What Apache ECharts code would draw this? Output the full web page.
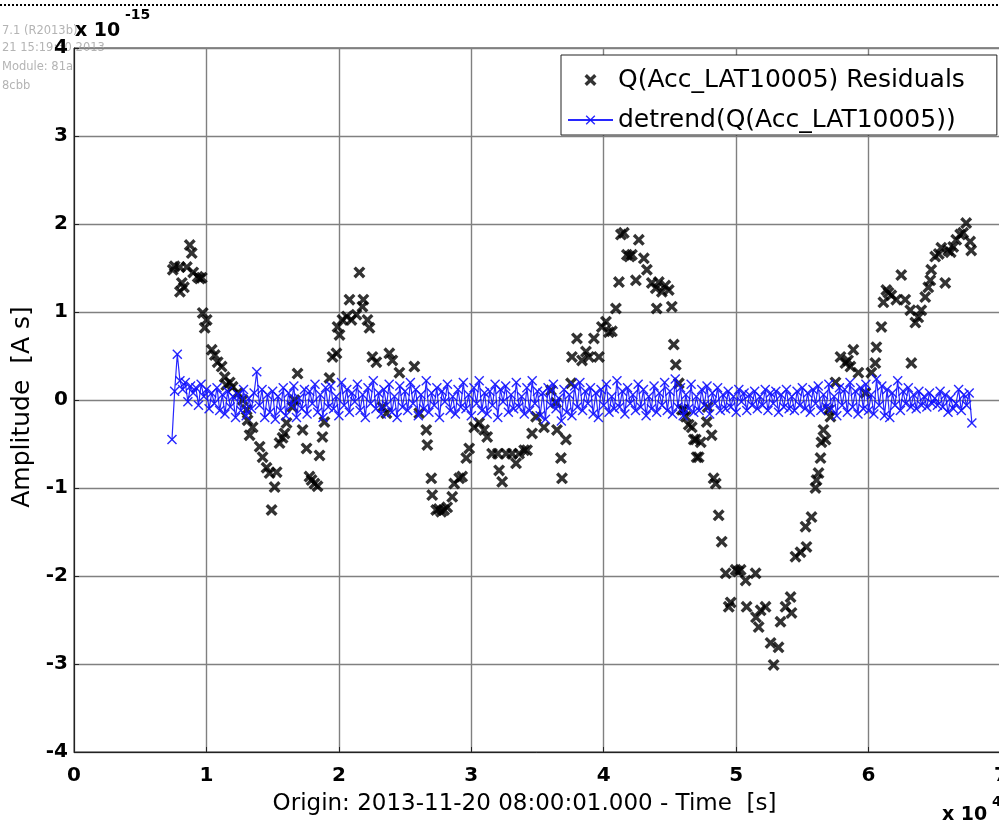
<!DOCTYPE html>
<html>
<head>
<meta charset="utf-8">
<script src="https://cdn.jsdelivr.net/npm/echarts@6/dist/echarts.min.js"></script>
<style>html,body{margin:0;padding:0;background:#fff;}#c{width:999px;height:827px;}</style>
</head>
<body>
<div id="c"></div>
<script>
// Time in units of 1e4 s, amplitude in units of 1e-15 A s
var xTicks = [0, 1, 2, 3, 4, 5, 6, 7];
var yTicks = [-4, -3, -2, -1, 0, 1, 2, 3, 4];
var seriesNames = ['Q(Acc_LAT10005) Residuals', 'detrend(Q(Acc_LAT10005))'];

var residuals = [
[0.746,1.48],[0.76,1.52],[0.799,1.51],[0.80,1.23],[0.814,1.33],[0.83,1.28],[0.852,1.51],[0.874,1.76],[0.889,1.67],[0.90,1.45],
[0.934,1.40],[0.95,1.38],[0.965,1.39],[0.972,0.99],[0.987,0.82],[1.002,0.91],[1.040,0.57],[1.063,0.51],[1.085,0.43],[1.115,0.38],
[1.138,0.26],[1.15,0.17],[1.176,0.20],[1.198,0.15],[1.236,0.08],[1.274,0.00],[1.304,-0.11],[1.311,-0.23],[1.326,-0.40],[1.349,-0.31],
[1.402,-0.53],[1.424,-0.65],[1.454,-0.77],[1.477,-0.83],[1.492,-1.25],[1.515,-0.99],[1.530,-0.82],[1.552,-0.49],[1.575,-0.43],[1.590,-0.38],
[1.605,-0.26],[1.650,-0.08],[1.665,0.00],[1.688,0.30],[1.726,-0.34],[1.756,-0.55],[1.778,-0.87],[1.794,-0.91],[1.816,-0.95],[1.839,-0.98],
[1.854,-0.63],[1.876,-0.42],[1.891,-0.25],[1.929,0.25],[1.952,0.49],[1.982,0.53],[1.990,0.83],[2.005,0.74],[2.027,0.91],[2.060,0.95],
[2.080,1.14],[2.095,0.91],[2.133,0.97],[2.155,1.45],[2.178,1.06],[2.185,1.14],[2.216,0.91],[2.231,0.82],[2.253,0.49],[2.283,0.43],
[2.329,-0.08],[2.359,-0.15],[2.381,0.53],[2.404,0.45],[2.457,0.31],[2.570,0.38],[2.607,-0.15],[2.660,-0.34],[2.668,-0.51],[2.698,-0.89],
[2.705,-1.08],[2.735,-1.25],[2.755,-1.24],[2.773,-1.27],[2.795,-1.25],[2.818,-1.22],[2.856,-1.10],[2.871,-0.95],[2.909,-0.89],[2.931,-0.87],
[2.962,-0.66],[2.984,-0.55],[3.022,-0.31],[3.060,-0.26],[3.097,-0.34],[3.120,-0.42],[3.157,-0.61],[3.200,-0.61],[3.210,-0.80],[3.233,-0.93],
[3.263,-0.61],[3.308,-0.61],[3.338,-0.72],[3.361,-0.61],[3.399,-0.57],[3.421,-0.57],[3.459,-0.38],[3.489,-0.19],[3.549,-0.31],[3.602,0.11],
[3.640,-0.03],[3.647,-0.34],[3.677,-0.66],[3.685,-0.89],[3.715,-0.45],[3.753,0.19],[3.760,0.49],[3.798,0.70],[3.836,0.45],[3.866,0.55],
[3.889,0.49],[3.926,0.70],[3.964,0.49],[3.986,0.83],[4.017,0.89],[4.039,0.77],[4.062,0.78],[4.092,1.04],[4.115,1.34],[4.130,1.88],
[4.152,1.90],[4.175,1.65],[4.195,1.63],[4.213,1.65],[4.243,1.36],[4.265,1.82],[4.303,1.61],[4.326,1.48],[4.363,1.33],[4.393,1.27],
[4.400,1.04],[4.416,1.34],[4.439,1.23],[4.465,1.30],[4.491,1.25],[4.514,1.06],[4.529,0.63],[4.544,0.40],[4.567,0.19],[4.590,-0.11],
[4.605,-0.11],[4.620,-0.19],[4.642,-0.28],[4.665,-0.31],[4.680,-0.45],[4.695,-0.45],[4.702,-0.65],[4.717,-0.65],[4.733,-0.48],[4.778,-0.25],
[4.785,-0.08],[4.815,-0.40],[4.830,-0.89],[4.846,-0.95],[4.868,-1.31],[4.891,-1.61],[4.921,-1.97],[4.944,-2.35],[4.959,-2.30],[4.996,-1.93],
[5.015,-1.95],[5.034,-1.93],[5.072,-2.05],[5.079,-2.35],[5.147,-1.97],[5.150,-2.47],[5.170,-2.58],[5.185,-2.39],[5.222,-2.35],[5.260,-2.76],
[5.283,-3.01],[5.320,-2.81],[5.335,-2.52],[5.373,-2.35],[5.411,-2.24],[5.418,-2.42],[5.448,-1.78],[5.486,-1.73],[5.524,-1.44],[5.531,-1.67],
[5.569,-1.33],[5.599,-1.00],[5.607,-0.91],[5.622,-0.83],[5.637,-0.66],[5.644,-0.48],[5.659,-0.34],[5.675,-0.45],[5.697,-0.11],[5.712,-0.19],
[5.750,0.20],[5.788,0.49],[5.825,0.42],[5.845,0.45],[5.863,0.38],[5.885,0.57],[5.923,0.31],[5.976,0.08],[6.021,0.31],[6.051,0.42],
[6.059,0.60],[6.097,0.83],[6.112,1.11],[6.134,1.25],[6.150,1.22],[6.172,1.19],[6.209,1.14],[6.247,1.42],[6.277,1.14],[6.315,1.02],
[6.323,0.42],[6.353,0.88],[6.375,0.94],[6.398,1.02],[6.428,1.17],[6.451,1.28],[6.466,1.36],[6.473,1.48],[6.503,1.63],[6.530,1.66],
[6.549,1.73],[6.579,1.33],[6.601,1.70],[6.620,1.68],[6.639,1.74],[6.662,1.82],[6.692,1.88],[6.714,1.90],[6.737,2.01],[6.767,1.80],
[6.775,1.70]
];

var detrended = [
[0.74,-0.45],[0.76,0.10],[0.78,0.52],[0.80,0.22],[0.82,0.12],[0.84,0.20],[0.86,-0.02],[0.88,0.16],[0.90,0.08],[0.92,0.14],
[0.94,-0.06],[0.96,0.18],[0.98,0.04],[1.00,0.12],[1.02,-0.10],[1.04,0.08],[1.06,-0.04],[1.08,0.14],[1.10,-0.12],[1.12,0.06],
[1.14,-0.16],[1.16,0.10],[1.18,-0.08],[1.20,0.04],[1.22,-0.20],[1.24,0.06],[1.26,-0.12],[1.28,0.12],[1.30,-0.18],[1.32,0.02],
[1.34,-0.10],[1.36,0.08],[1.38,0.32],[1.40,-0.06],[1.42,0.12],[1.44,-0.20],[1.46,0.06],[1.48,-0.14],[1.50,0.10],[1.52,-0.22],
[1.54,0.04],[1.56,-0.12],[1.58,0.14],[1.60,-0.18],[1.62,0.08],[1.64,-0.06],[1.66,0.16],[1.68,-0.20],[1.70,0.02],[1.72,-0.10],
[1.74,0.12],[1.76,-0.16],[1.78,0.10],[1.80,-0.04],[1.82,0.18],[1.84,-0.14],[1.86,0.06],[1.88,-0.20],[1.90,0.14],[1.92,-0.08],
[1.94,0.16],[1.96,-0.10],[1.98,0.04],[2.00,-0.18],[2.02,0.20],[2.04,-0.06],[2.06,0.12],[2.08,-0.14],[2.10,0.08],[2.12,-0.02],
[2.14,0.18],[2.16,-0.12],[2.18,0.06],[2.20,-0.20],[2.22,0.14],[2.24,-0.04],[2.26,0.22],[2.28,-0.10],[2.30,0.08],[2.32,-0.16],
[2.34,0.12],[2.36,-0.06],[2.38,0.18],[2.40,-0.14],[2.42,0.04],[2.44,-0.20],[2.46,0.16],[2.48,-0.08],[2.50,0.10],[2.52,-0.12],
[2.54,0.20],[2.56,-0.04],[2.58,0.12],[2.60,-0.18],[2.62,0.06],[2.64,-0.10],[2.66,0.22],[2.68,-0.14],[2.70,0.08],[2.72,-0.06],
[2.74,0.14],[2.76,-0.20],[2.78,0.10],[2.80,-0.02],[2.82,0.18],[2.84,-0.12],[2.86,0.04],[2.88,-0.16],[2.90,0.12],[2.92,-0.08],
[2.94,0.20],[2.96,-0.10],[2.98,0.06],[3.00,-0.18],[3.02,0.14],[3.04,-0.04],[3.06,0.22],[3.08,-0.12],[3.10,0.08],[3.12,-0.16],
[3.14,0.10],[3.16,-0.06],[3.18,0.18],[3.20,-0.20],[3.22,0.12],[3.24,-0.02],[3.26,0.16],[3.28,-0.14],[3.30,0.06],[3.32,-0.10],
[3.34,0.20],[3.36,-0.08],[3.38,0.04],[3.40,-0.16],[3.42,0.14],[3.44,-0.12],[3.46,0.22],[3.48,-0.04],[3.50,0.10],[3.52,-0.18],
[3.54,0.08],[3.56,-0.22],[3.58,0.14],[3.60,-0.06],[3.62,0.18],[3.64,-0.10],[3.66,0.02],[3.68,-0.24],[3.70,0.12],[3.72,-0.14],
[3.74,0.06],[3.76,-0.18],[3.78,0.16],[3.80,-0.08],[3.82,0.20],[3.84,-0.12],[3.86,0.10],[3.88,-0.04],[3.90,0.14],[3.92,-0.16],
[3.94,0.08],[3.96,-0.20],[3.98,0.12],[4.00,-0.06],[4.02,0.18],[4.04,-0.14],[4.06,0.04],[4.08,-0.10],[4.10,0.22],[4.12,-0.08],
[4.14,0.10],[4.16,-0.16],[4.18,0.14],[4.20,-0.04],[4.22,0.06],[4.24,-0.12],[4.26,0.18],[4.28,-0.08],[4.30,0.12],[4.32,-0.18],
[4.34,0.04],[4.36,-0.10],[4.38,0.16],[4.40,-0.14],[4.42,0.08],[4.44,-0.06],[4.46,0.20],[4.48,-0.12],[4.50,0.10],[4.52,-0.16],
[4.54,0.24],[4.56,-0.08],[4.58,0.14],[4.60,-0.18],[4.62,0.06],[4.64,-0.10],[4.66,0.18],[4.68,-0.14],[4.70,0.04],[4.72,-0.12],
[4.74,0.12],[4.76,-0.06],[4.78,0.16],[4.80,-0.16],[4.82,0.08],[4.84,-0.04],[4.86,0.14],[4.88,-0.12],[4.90,0.06],[4.92,-0.10],
[4.94,0.10],[4.96,-0.08],[4.98,0.04],[5.00,-0.14],[5.02,0.12],[5.04,-0.02],[5.06,0.08],[5.08,-0.12],[5.10,0.06],[5.12,-0.06],
[5.14,0.10],[5.16,-0.10],[5.18,0.04],[5.20,-0.06],[5.22,0.12],[5.24,-0.12],[5.26,0.08],[5.28,-0.04],[5.30,0.10],[5.32,-0.14],
[5.34,0.06],[5.36,-0.08],[5.38,0.12],[5.40,-0.10],[5.42,0.04],[5.44,-0.12],[5.46,0.10],[5.48,-0.06],[5.50,0.14],[5.52,-0.10],
[5.54,0.08],[5.56,-0.14],[5.58,0.12],[5.60,-0.04],[5.62,0.16],[5.64,-0.12],[5.66,0.06],[5.68,-0.08],[5.70,0.18],[5.72,-0.10],
[5.74,0.04],[5.76,-0.18],[5.78,0.14],[5.80,-0.06],[5.82,0.12],[5.84,-0.14],[5.86,0.20],[5.88,-0.08],[5.90,0.10],[5.92,-0.16],
[5.94,0.14],[5.96,-0.10],[5.98,0.18],[6.00,-0.12],[6.02,0.06],[6.04,-0.16],[6.06,0.24],[6.08,-0.06],[6.10,0.16],[6.12,-0.18],
[6.14,0.12],[6.16,-0.20],[6.18,0.08],[6.20,-0.06],[6.22,0.22],[6.24,-0.12],[6.26,0.10],[6.28,-0.04],[6.30,0.14],[6.32,-0.08],
[6.34,0.06],[6.36,-0.10],[6.38,0.10],[6.40,-0.06],[6.42,0.04],[6.44,-0.08],[6.46,0.08],[6.48,-0.04],[6.50,0.02],[6.52,-0.06],
[6.54,0.10],[6.56,-0.08],[6.58,0.06],[6.60,-0.14],[6.62,0.02],[6.64,-0.10],[6.66,-0.04],[6.68,0.12],[6.70,-0.12],[6.72,0.06],
[6.74,-0.06],[6.76,0.08],[6.78,-0.26]
];

var xSym = 'path://M0,2L2,0L5,3L8,0L10,2L7,5L10,8L8,10L5,7L2,10L0,8L3,5Z';
var xSymThin = 'path://M0,1L1,0L5,4L9,0L10,1L6,5L10,9L9,10L5,6L1,10L0,9L4,5Z';
var FONT = '"DejaVu Sans", "Liberation Sans", Arial, sans-serif';

var chart = echarts.init(document.getElementById('c'), null, {renderer: 'canvas'});
chart.setOption({
  animation: false,
  backgroundColor: '#ffffff',
  textStyle: {fontFamily: FONT},
  grid: {left: 74, top: 48, width: 927, height: 704, outerBoundsMode: 'none', show: true, borderColor: '#222', borderWidth: 1, backgroundColor: '#fff', containLabel: false},
  legend: {
    left: 561, top: 55, orient: 'vertical',
    backgroundColor: '#fff', borderColor: '#222', borderWidth: 1, borderRadius: 0,
    padding: [10, 32, 0, 6], itemWidth: 45, itemHeight: 12, itemGap: 10,
    textStyle: {fontFamily: FONT, fontSize: 25, color: '#000', lineHeight: 30},
    data: seriesNames
  },
  xAxis: {
    type: 'value', min: xTicks[0], max: xTicks[xTicks.length - 1], interval: 1,
    name: 'Origin: 2013-11-20 08:00:01.000 - Time  [s]', nameLocation: 'middle', nameGap: 41,
    nameTextStyle: {fontFamily: FONT, fontSize: 23, color: '#000', padding: [0, 26, 0, 0]},
    axisLine: {show: true, onZero: false, lineStyle: {color: '#222', width: 1}},
    axisTick: {show: true, inside: true, length: 5, lineStyle: {color: '#222'}},
    axisLabel: {fontFamily: FONT, fontSize: 20, fontWeight: 'bold', color: '#000', margin: 14},
    splitLine: {show: true, lineStyle: {color: '#808080', width: 1.4}}
  },
  yAxis: {
    type: 'value', min: yTicks[0], max: yTicks[yTicks.length - 1], interval: 1,
    name: 'Amplitude  [A s]', nameLocation: 'middle', nameGap: 37, nameRotate: 90,
    nameTextStyle: {fontFamily: FONT, fontSize: 25, color: '#000', padding: [0, 14, 0, 0]},
    axisLine: {show: true, onZero: false, lineStyle: {color: '#222', width: 1}},
    axisTick: {show: true, inside: true, length: 5, lineStyle: {color: '#222'}},
    axisLabel: {fontFamily: FONT, fontSize: 20, fontWeight: 'bold', color: '#000', margin: 6},
    splitLine: {show: true, lineStyle: {color: '#808080', width: 1.4}}
  },
  series: [
    {
      name: seriesNames[0], type: 'scatter', data: residuals,
      symbol: xSym, symbolSize: 12, z: 3,
      itemStyle: {color: '#000'}
    },
    {
      name: seriesNames[1], type: 'line', data: detrended,
      symbol: xSymThin, symbolSize: 10, showSymbol: true, showAllSymbol: true, z: 4,
      lineStyle: {color: '#1010ff', width: 1.2, opacity: 0.9},
      itemStyle: {color: '#1010ff', opacity: 0.9}
    }
  ],
  graphic: [
    {type: 'line', shape: {x1: 0, y1: 5, x2: 999, y2: 5}, style: {stroke: '#000', lineWidth: 2, lineDash: [2, 2]}, z: 1},
    {type: 'text', left: 2, top: 25, z: 0, style: {text: '7.1 (R2013b)', fill: '#b4b4b4', font: '11.5px ' + FONT}},
    {type: 'text', left: 2, top: 42, z: 0, style: {text: '21 15:19:30 2013', fill: '#b4b4b4', font: '11.5px ' + FONT}},
    {type: 'text', left: 2, top: 61, z: 0, style: {text: 'Module: 81a', fill: '#b4b4b4', font: '11.5px ' + FONT}},
    {type: 'text', left: 2, top: 80, z: 0, style: {text: '8cbb', fill: '#b4b4b4', font: '11.5px ' + FONT}},
    {type: 'text', left: 75, top: 22, z: 10, style: {text: 'x 10', fill: '#000', font: 'bold 19px ' + FONT}},
    {type: 'text', left: 125, top: 8, z: 10, style: {text: '-15', fill: '#000', font: 'bold 14px ' + FONT}},
    {type: 'text', left: 942, top: 806, z: 10, style: {text: 'x 10', fill: '#000', font: 'bold 19px ' + FONT}},
    {type: 'text', left: 992, top: 795, z: 10, style: {text: '4', fill: '#000', font: 'bold 14px ' + FONT}}
  ]
});
</script>
</body>
</html>
